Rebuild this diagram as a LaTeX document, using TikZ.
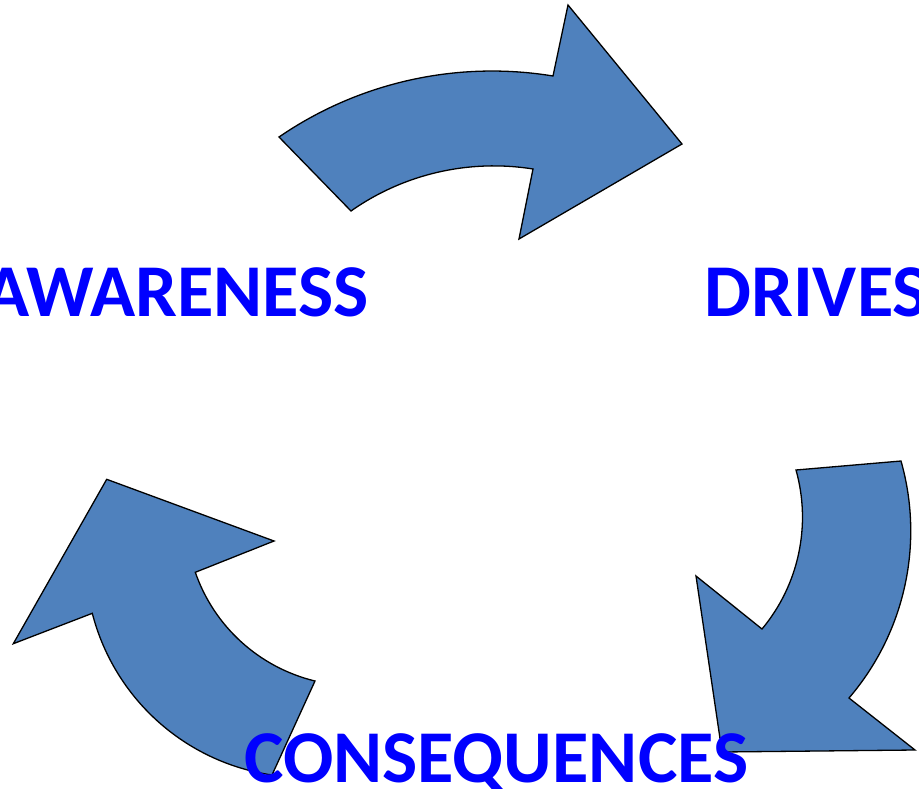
\documentclass[tikz,border=0pt]{standalone}
\usepackage{fontspec}
\setmainfont{Carlito}
\usepackage{tikz}
\definecolor{arrowblue}{RGB}{79,129,189}
\definecolor{textblue}{RGB}{0,0,255}
\tikzset{
	arrowstyle/.style={draw=black,line width=1.3pt,line join=miter,fill=arrowblue},
	labelstyle/.style={inner sep=0pt,text=textblue,font=\bfseries}
}

\begin{document}
\begin{tikzpicture}[x=1pt,y=-1pt]
	\fontsize{74.5}{80}\selectfont
	\useasboundingbox (0,0) rectangle (919,788);
	% top arrow
	\draw[arrowstyle] (279,137) .. controls (359,82.1) and (457.3,60.3) .. (553,76)
		-- (568,5) -- (682,144) -- (519,239) -- (533,169)
		.. controls (469.2,158.8) and (403.8,173.8) .. (351,211) -- cycle;
	% right arrow
	\draw[arrowstyle] (796,470) .. controls (811.5,525.3) and (798.8,584.9) .. (762,629)
		-- (696,576) -- (722,752) -- (915,750) -- (849,698)
		.. controls (904.9,632.7) and (924.5,543.7) .. (901,461) -- cycle;
	% left arrow
	\draw[arrowstyle] (315,681) -- (272,775)
		.. controls (185.1,762.2) and (114.2,698.5) .. (92.3,613.3)
		-- (13.3,643.7) -- (106.7,479.3) -- (274,541) -- (195.3,572.3)
		.. controls (214.1,626.5) and (259.2,667.5) .. (315,681) -- cycle;
	\node[labelstyle,anchor=base east] (awareness) at (369,316) {AWARENESS};
	\node[labelstyle,anchor=base west] (drives) at (704,316) {DRIVES};
	\node[labelstyle,anchor=base west] (consequences) at (244,782) {CONSEQUENCES};
\end{tikzpicture}
\end{document}
